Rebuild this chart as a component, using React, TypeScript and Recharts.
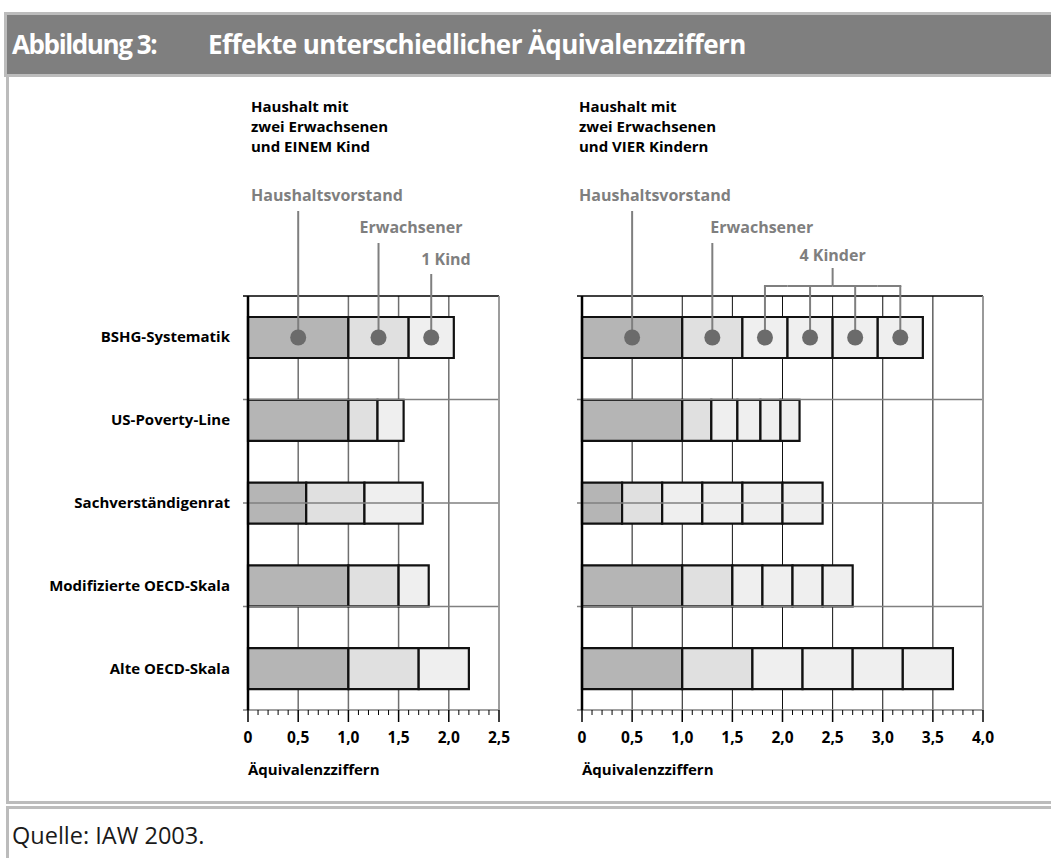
import React from 'react';
import { BarChart, Bar, XAxis, YAxis, CartesianGrid, ReferenceLine, LabelList } from 'recharts';

// Equivalence scales compared in both panels (top to bottom)
const SCALES = ['BSHG-Systematik', 'US-Poverty-Line', 'Sachverständigenrat', 'Modifizierte OECD-Skala', 'Alte OECD-Skala'];

// Household: two adults and ONE child
const ONE_HEAD = [1.0, 1.0, 0.58, 1.0, 1.0];
const ONE_ADULT = [0.6, 0.29, 0.58, 0.5, 0.7];
const ONE_CHILD = [0.45, 0.26, 0.58, 0.3, 0.5];

// Household: two adults and FOUR children
const FOUR_HEAD = [1.0, 1.0, 0.4, 1.0, 1.0];
const FOUR_ADULT = [0.6, 0.29, 0.4, 0.5, 0.7];
const FOUR_CHILD_1 = [0.45, 0.26, 0.4, 0.3, 0.5];
const FOUR_CHILD_2 = [0.45, 0.23, 0.4, 0.3, 0.5];
const FOUR_CHILD_3 = [0.45, 0.2, 0.4, 0.3, 0.5];
const FOUR_CHILD_4 = [0.45, 0.19, 0.4, 0.3, 0.5];

const LEFT_TICKS = [0, 0.5, 1, 1.5, 2, 2.5];
const RIGHT_TICKS = [0, 0.5, 1, 1.5, 2, 2.5, 3, 3.5, 4];
const ROW_EDGES = [1, 2, 3, 4, 5];

const FONT = '"Open Sans", Lato, sans-serif';
const HEAD_FILL = '#b5b5b5';
const ADULT_FILL = '#e0e0e0';
const CHILD_FILL = '#efefef';
const NOTE_GRAY = '#7f7f7f';
const DOT_GRAY = '#6b6b6b';
const FRAME = '#bcbcbc';

const CHART_H = 700;
const MARGIN_TOP = 206;
const MARGIN_BOTTOM = 50;
const XAXIS_H = 30;
const BAR_SIZE = 41;

const fmt = (v: number) => (v === 0 ? '0' : v.toFixed(1).replace('.', ','));

const oneChildRows = SCALES.map((name, i) => ({
  name,
  head: ONE_HEAD[i],
  adult: ONE_ADULT[i],
  child: ONE_CHILD[i],
}));

const fourChildRows = SCALES.map((name, i) => ({
  name,
  head: FOUR_HEAD[i],
  adult: FOUR_ADULT[i],
  kid1: FOUR_CHILD_1[i],
  kid2: FOUR_CHILD_2[i],
  kid3: FOUR_CHILD_3[i],
  kid4: FOUR_CHILD_4[i],
}));

function CategoryTick({ x, y, payload }: any) {
  return (
    <text x={x - 18} y={y} dy={5} textAnchor="end" fontFamily={FONT} fontWeight={700} fontSize={15} fill="#000">
      {payload.value}
    </text>
  );
}

/** Major tick with label plus four minor ticks up to the next major tick. */
function makeXTick(pxPerUnit: number, max: number) {
  return function XTick({ x, y, payload }: any) {
    const v = payload.value as number;
    const minor = [];
    if (v < max) {
      for (let k = 1; k < 5; k++) {
        const mx = x + k * 0.1 * pxPerUnit;
        minor.push(<line key={k} x1={mx} y1={y} x2={mx} y2={y + 5} stroke="#000" strokeWidth={1} />);
      }
    }
    return (
      <g>
        <line x1={x} y1={y} x2={x} y2={y + 12} stroke="#000" strokeWidth={1.5} />
        {minor}
        <text x={x} y={y + 33} textAnchor="middle" fontFamily={FONT} fontWeight={700} fontSize={15.5} fill="#000">
          {fmt(v)}
        </text>
      </g>
    );
  };
}

interface Note {
  text: string;
  dx: number; // text x relative to leader (or bar start when fromStart)
  fromStart?: boolean;
  textUp: number; // baseline above the bar top
  lineUp: number; // leader start above the bar top
}

/** Leader line + dot for the first row (BSHG), drawn from the bar's own geometry. */
function leader(note: Note) {
  return (props: any) => {
    if (props.index !== 0) return null;
    const vb = props.viewBox ?? props;
    const { x, y, width, height } = vb;
    const cx = x + width / 2;
    const cy = y + height / 2;
    const tx = note.fromStart ? x + note.dx : cx + note.dx;
    return (
      <g>
        <line x1={cx} y1={y - note.lineUp} x2={cx} y2={cy} stroke={NOTE_GRAY} strokeWidth={2} />
        <circle cx={cx} cy={cy} r={8} fill={DOT_GRAY} />
        <text x={tx} y={y - note.textUp} fontFamily={FONT} fontWeight={700} fontSize={16} fill={NOTE_GRAY}>
          {note.text}
        </text>
      </g>
    );
  };
}

/** Bracket joining the four children in the right panel. */
function kidBracket(pos: number) {
  return (props: any) => {
    if (props.index !== 0) return null;
    const vb = props.viewBox ?? props;
    const { x, y, width, height } = vb;
    const cx = x + width / 2;
    const cy = y + height / 2;
    const by = y - 31;
    const hx1 = pos === 0 ? cx - 1 : x;
    const hx2 = pos === 3 ? cx + 1 : x + width;
    return (
      <g>
        <line x1={cx} y1={by} x2={cx} y2={cy} stroke={NOTE_GRAY} strokeWidth={2} />
        <line x1={hx1} y1={by} x2={hx2} y2={by} stroke={NOTE_GRAY} strokeWidth={2} />
        <circle cx={cx} cy={cy} r={8} fill={DOT_GRAY} />
        {pos === 2 && (
          <g>
            <line x1={x} y1={y - 49} x2={x} y2={by} stroke={NOTE_GRAY} strokeWidth={2} />
            <text x={x} y={y - 56} textAnchor="middle" fontFamily={FONT} fontWeight={700} fontSize={16} fill={NOTE_GRAY}>
              4 Kinder
            </text>
          </g>
        )}
      </g>
    );
  };
}

function gridLines(max: number, edgeColor: string) {
  return [
    ...ROW_EDGES.map((k) => (
      <ReferenceLine
        key={`row-${k}`}
        yAxisId="rows"
        segment={[{ x: -0.05, y: k }, { x: max, y: k }]}
        stroke="#808080"
        strokeWidth={1.5}
        ifOverflow="visible"
      />
    )),
    <ReferenceLine
      key="axis"
      yAxisId="rows"
      segment={[{ x: -0.05, y: 0 }, { x: max, y: 0 }]}
      stroke="#000"
      strokeWidth={1.5}
      ifOverflow="visible"
    />,
    <ReferenceLine key="edge" x={max} yAxisId="rows" stroke={edgeColor} strokeWidth={1.5} />,
  ];
}

function Heading({ left, lines }: { left: number; lines: string[] }) {
  return (
    <div
      style={{
        position: 'absolute',
        left,
        top: 96,
        fontFamily: FONT,
        fontWeight: 700,
        fontSize: 15,
        lineHeight: '20px',
        color: '#000',
      }}
    >
      {lines.map((l) => (
        <div key={l}>{l}</div>
      ))}
    </div>
  );
}

function AxisTitle({ left }: { left: number }) {
  return (
    <div
      style={{ position: 'absolute', left, top: 759, fontFamily: FONT, fontWeight: 700, fontSize: 15, lineHeight: '20px' }}
    >
      Äquivalenzziffern
    </div>
  );
}

export default function App() {
  const leftW = 520;
  const leftAxisW = 248;
  const leftRight = 21;
  const leftPx = (leftW - leftAxisW - leftRight) / 2.5;

  const rightW = 531;
  const rightAxisW = 62;
  const rightRight = 68;
  const rightPx = (rightW - rightAxisW - rightRight) / 4;

  const bar = (key: string, fill: string, content: any) => (
    <Bar
      key={key}
      dataKey={key}
      stackId="s"
      fill={fill}
      stroke="#111"
      strokeWidth={2.2}
      barSize={BAR_SIZE}
      isAnimationActive={false}
    >
      <LabelList content={content} />
    </Bar>
  );

  return (
    <div style={{ position: 'absolute', left: 0, top: 0, width: 1051, height: 858, background: '#fff', overflow: 'hidden' }}>
      {/* header band */}
      <div
        style={{
          position: 'absolute',
          left: 4,
          top: 12,
          width: 1047,
          height: 59,
          background: '#7f7f7f',
          borderTop: `3px solid ${FRAME}`,
          borderBottom: `3px solid ${FRAME}`,
          borderLeft: `3px solid ${FRAME}`,
          color: '#fff',
          fontFamily: FONT,
          fontWeight: 700,
          fontSize: 26,
          letterSpacing: -0.6,
        }}
      >
        <span style={{ position: 'absolute', left: 5, top: 11, letterSpacing: -1.4 }}>Abbildung 3:</span>
        <span style={{ position: 'absolute', left: 201, top: 11 }}>Effekte unterschiedlicher Äquivalenzziffern</span>
      </div>

      {/* content frame */}
      <div
        style={{
          position: 'absolute',
          left: 6,
          top: 77,
          width: 1045,
          height: 724,
          borderLeft: `3px solid ${FRAME}`,
          borderBottom: `3px solid ${FRAME}`,
        }}
      />
      <div
        style={{
          position: 'absolute',
          left: 6,
          top: 806,
          width: 1045,
          height: 60,
          borderLeft: `3px solid ${FRAME}`,
          borderTop: `3px solid ${FRAME}`,
        }}
      />
      <div style={{ position: 'absolute', left: 12, top: 819, fontFamily: FONT, fontSize: 23.5, lineHeight: '32px', color: '#1a1a1a' }}>
        Quelle: IAW 2003.
      </div>

      <Heading left={251} lines={['Haushalt mit', 'zwei Erwachsenen', 'und EINEM Kind']} />
      <Heading left={579} lines={['Haushalt mit', 'zwei Erwachsenen', 'und VIER Kindern']} />

      {/* left panel: one child */}
      <div style={{ position: 'absolute', left: 0, top: 90 }}>
        <BarChart
          width={leftW}
          height={CHART_H}
          data={oneChildRows}
          layout="vertical"
          margin={{ top: MARGIN_TOP, right: leftRight, bottom: MARGIN_BOTTOM, left: 0 }}
        >
          <CartesianGrid horizontal={false} stroke="#6f6f6f" strokeWidth={1.5} />
          <XAxis
            type="number"
            domain={[0, 2.5]}
            ticks={LEFT_TICKS}
            interval={0}
            height={XAXIS_H}
            tickSize={0}
            tickMargin={0}
            axisLine={false}
            tickLine={false}
            tick={makeXTick(leftPx, 2.5)}
          />
          <YAxis
            type="category"
            dataKey="name"
            width={leftAxisW}
            tickSize={0}
            tickMargin={0}
            tickLine={false}
            axisLine={{ stroke: '#000', strokeWidth: 2.5 }}
            tick={CategoryTick}
          />
          <YAxis yAxisId="rows" type="number" domain={[0, 5]} hide />
          {gridLines(2.5, '#a0a0a0')}
          {bar('head', HEAD_FILL, leader({ text: 'Haushaltsvorstand', dx: 3, fromStart: true, textUp: 116, lineUp: 106 }))}
          {bar('adult', ADULT_FILL, leader({ text: 'Erwachsener', dx: -19, textUp: 84, lineUp: 74 }))}
          {bar('child', CHILD_FILL, leader({ text: '1 Kind', dx: -10, textUp: 52, lineUp: 43 }))}
        </BarChart>
      </div>

      {/* right panel: four children */}
      <div style={{ position: 'absolute', left: 520, top: 90 }}>
        <BarChart
          width={rightW}
          height={CHART_H}
          data={fourChildRows}
          layout="vertical"
          margin={{ top: MARGIN_TOP, right: rightRight, bottom: MARGIN_BOTTOM, left: 0 }}
        >
          <CartesianGrid horizontal={false} stroke="#111" strokeWidth={1} />
          <XAxis
            type="number"
            domain={[0, 4]}
            ticks={RIGHT_TICKS}
            interval={0}
            height={XAXIS_H}
            tickSize={0}
            tickMargin={0}
            axisLine={false}
            tickLine={false}
            tick={makeXTick(rightPx, 4)}
          />
          <YAxis
            type="category"
            dataKey="name"
            width={rightAxisW}
            tick={false}
            tickLine={false}
            axisLine={{ stroke: '#000', strokeWidth: 2.5 }}
          />
          <YAxis yAxisId="rows" type="number" domain={[0, 5]} hide />
          {gridLines(4, '#a0a0a0')}
          {bar('head', HEAD_FILL, leader({ text: 'Haushaltsvorstand', dx: -3, fromStart: true, textUp: 116, lineUp: 106 }))}
          {bar('adult', ADULT_FILL, leader({ text: 'Erwachsener', dx: -2, textUp: 84, lineUp: 74 }))}
          {bar('kid1', CHILD_FILL, kidBracket(0))}
          {bar('kid2', CHILD_FILL, kidBracket(1))}
          {bar('kid3', CHILD_FILL, kidBracket(2))}
          {bar('kid4', CHILD_FILL, kidBracket(3))}
        </BarChart>
      </div>

      <AxisTitle left={248} />
      <AxisTitle left={582} />
    </div>
  );
}
